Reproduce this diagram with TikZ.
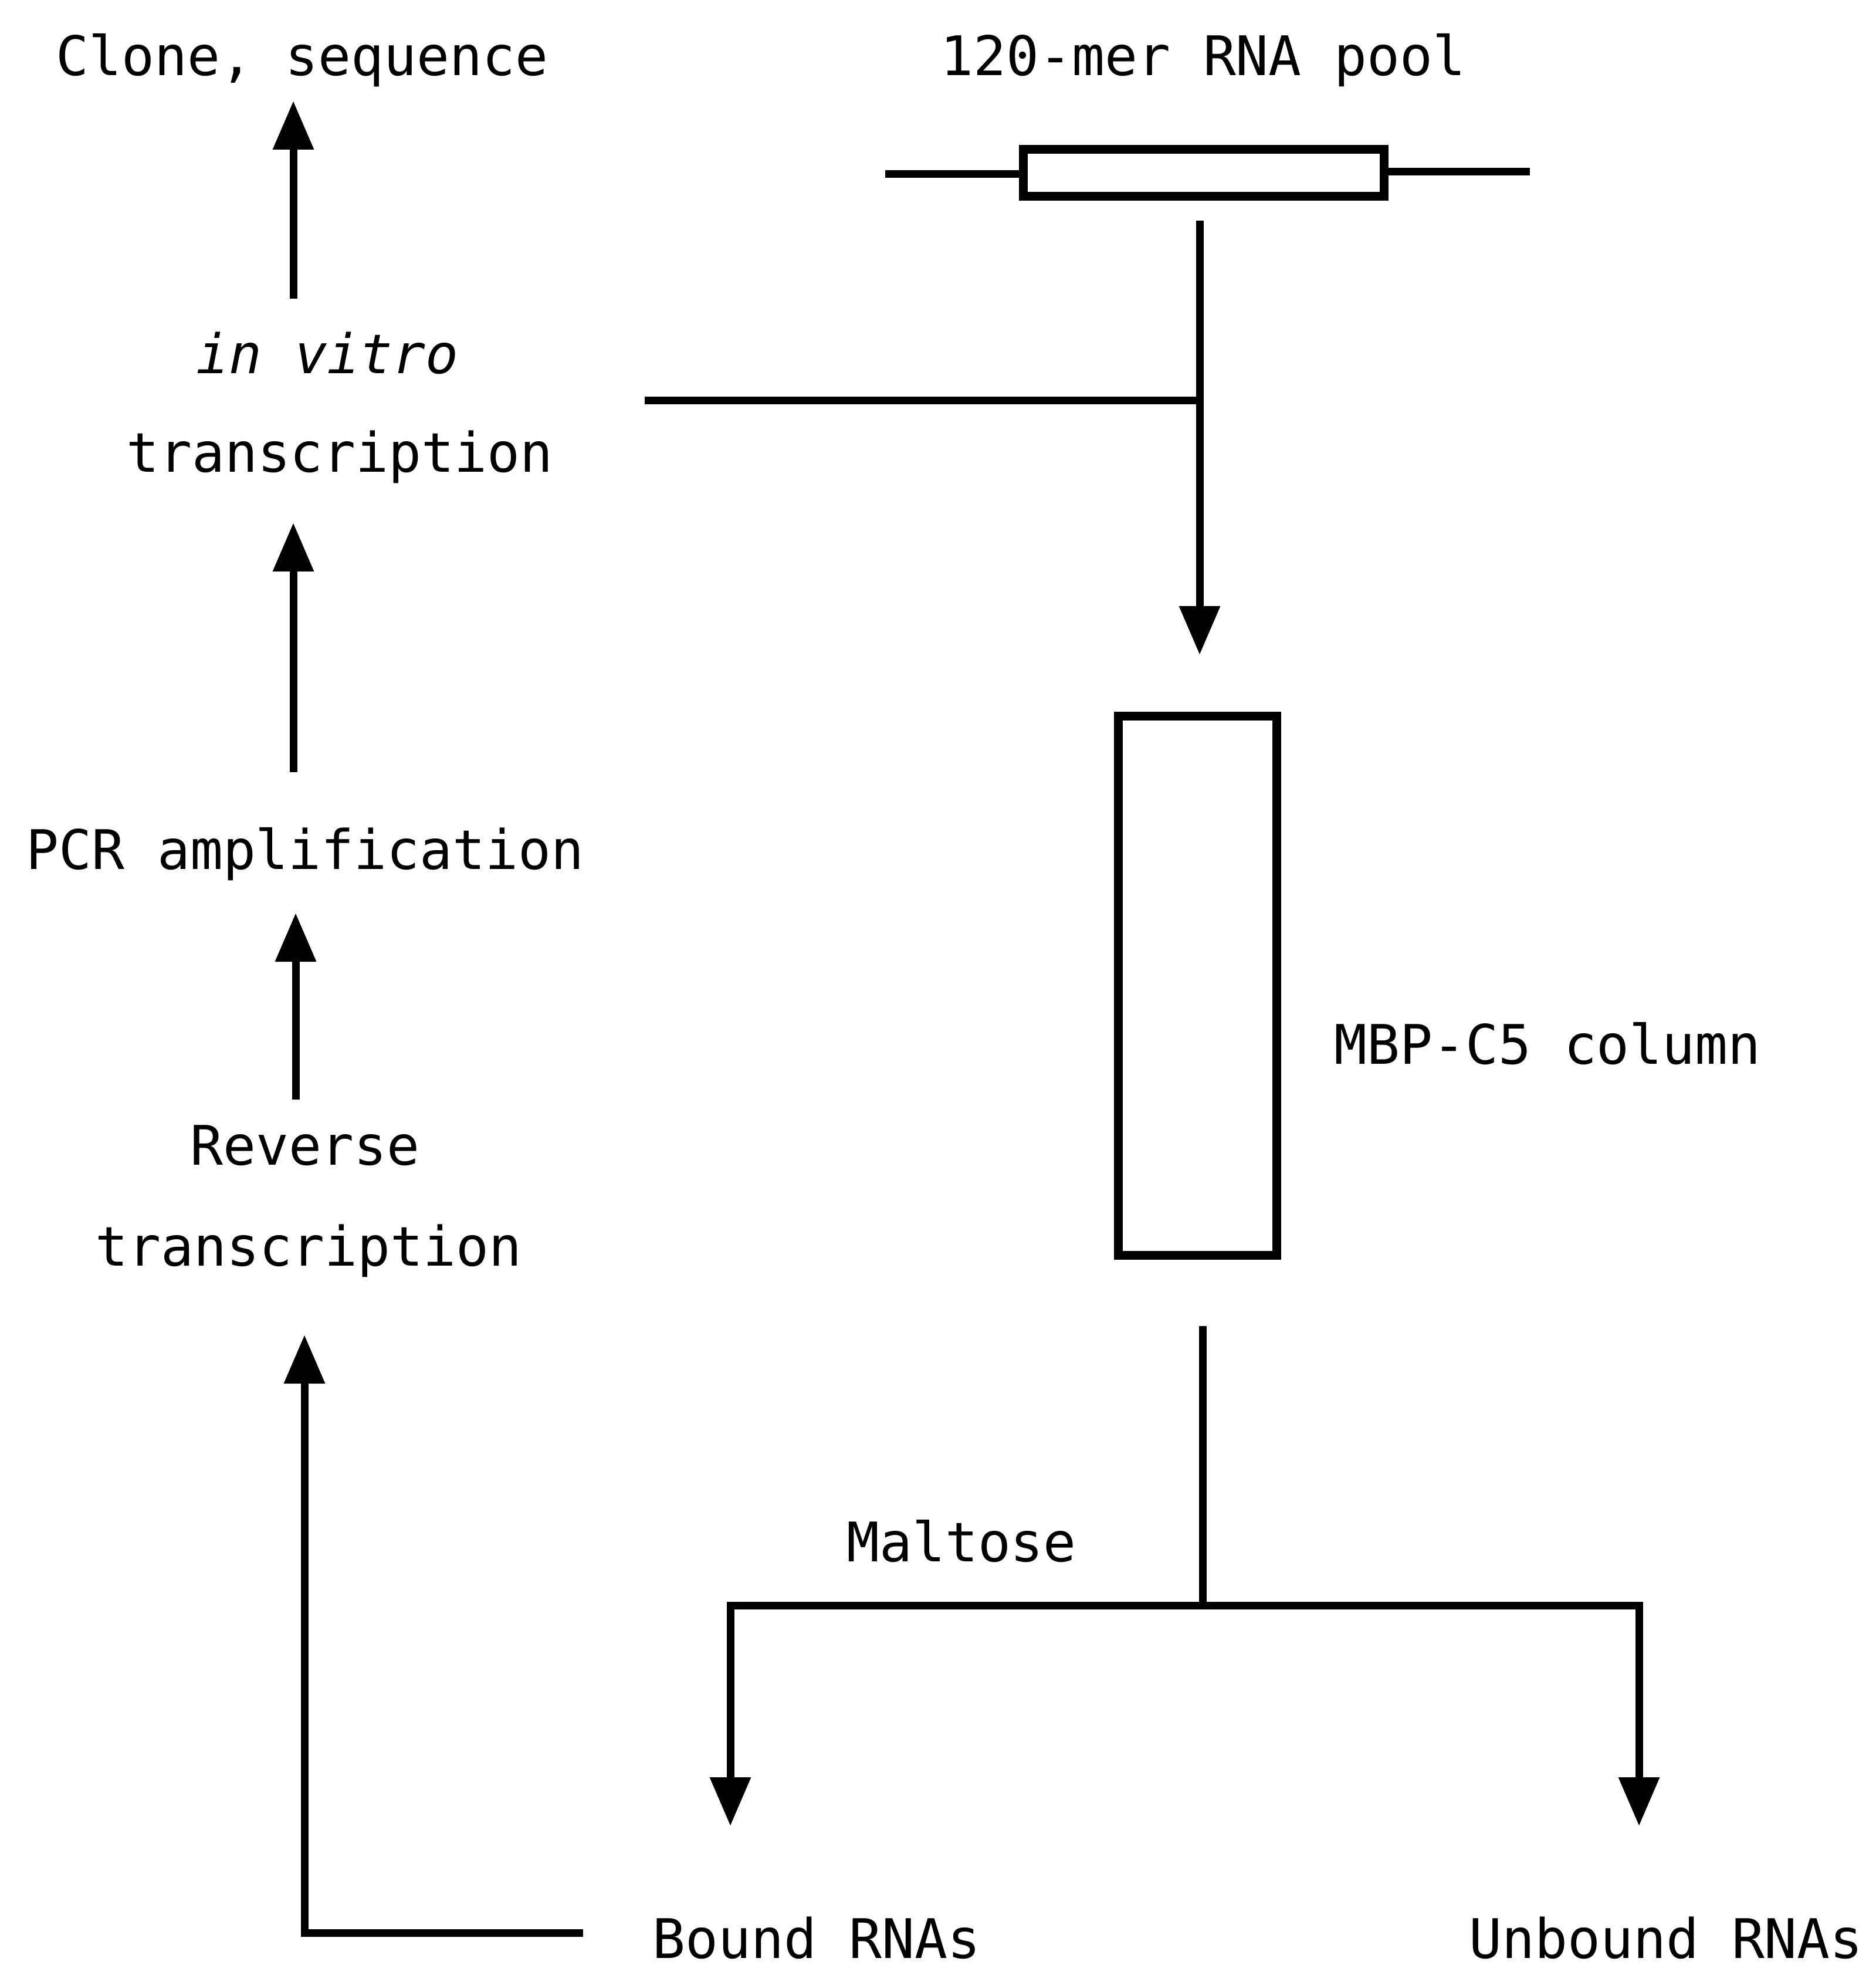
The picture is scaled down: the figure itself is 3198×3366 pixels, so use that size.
\documentclass[tikz,border=0pt]{standalone}
\usepackage{fontspec}
\setmonofont{DejaVu Sans Mono}
\usetikzlibrary{arrows.meta}
\tikzset{
  lbl/.style={font=\ttfamily\fontsize{9.3pt}{11pt}\selectfont, inner sep=0pt, anchor=base},
  ln/.style={line width=1.3pt},
  arr/.style={line width=1.3pt, -{Triangle[length=8.3pt,width=6.7pt]}},
  boxed/.style={draw, line width=1.5pt, inner sep=0pt},
}
\begin{document}
\begin{tikzpicture}[x=0.1pt,y=-0.1pt]
\useasboundingbox (0,0) rectangle (3198,3366);
% texts
\node[lbl] (clone) at (515,129) {Clone, sequence};
\node[lbl] (pool) at (2051,129) {120-mer RNA pool};
\node[lbl] (vitro) at (558,637) {\itshape in vitro};
\node[lbl] (trans1) at (579,805) {transcription};
\node[lbl] (pcr) at (520,1481) {PCR amplification};
\node[lbl] (rev) at (520,1985) {Reverse};
\node[lbl] (trans2) at (526,2157) {transcription};
\node[lbl] (mbp) at (2638,1813) {MBP-C5 column};
\node[lbl] (maltose) at (1639,2661) {Maltose};
\node[lbl] (bound) at (1392,3337) {Bound RNAs};
\node[lbl] (unbound) at (2840,3337) {Unbound RNAs};
% boxes
\node[boxed, minimum width=61.5pt, minimum height=8.0pt] (rna) at (2052,295) {};
\node[boxed, minimum width=27.0pt, minimum height=92.0pt] (column) at (2041,1680) {};
% RNA flanks
\coordinate (fl) at (1509,297);
\coordinate (fr) at (2608,293);
\draw[ln] (fl) -- (fl -| rna.west);
\draw[ln] (fr -| rna.east) -- (fr);
% left chain arrows
\coordinate (a1s) at (500,509); \coordinate (a1e) at (500,172);
\coordinate (a2s) at (500,1316); \coordinate (a2e) at (500,891);
\coordinate (a3s) at (504,1874); \coordinate (a3e) at (504,1556);
\draw[arr] (a1s) -- (a1e);
\draw[arr] (a2s) -- (a2e);
\draw[arr] (a3s) -- (a3e);
% feedback from bound RNAs
\coordinate (fb0) at (994,3294);
\coordinate (fb1) at (519,3294);
\coordinate (fb2) at (519,2275);
\draw[arr] (fb0) -- (fb1) -- (fb2);
% pool to column
\coordinate (p0) at (2045,376);
\coordinate (p1) at (2045,1116);
\coordinate (pj) at (2045,683);
\coordinate (vt) at (1099,683);
\draw[arr] (p0) -- (p1);
\draw[ln] (vt) -- (pj);
% column to fractions
\coordinate (c0) at (2050,2260);
\coordinate (c1) at (2050,2736);
\coordinate (hl) at (1245,2736);
\coordinate (hr) at (2794,2736);
\coordinate (tl) at (1245,3112);
\coordinate (tr) at (2794,3112);
\draw[ln] (c0) -- (c1);
\draw[arr] (c1) -- (hl) -- (tl);
\draw[arr] (c1) -- (hr) -- (tr);
\end{tikzpicture}
\end{document}
